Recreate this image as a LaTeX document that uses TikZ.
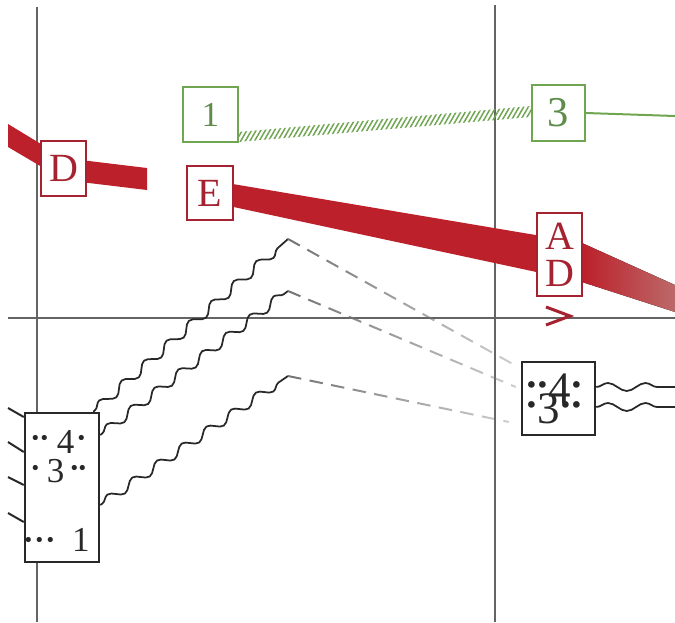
\documentclass[tikz,border=0pt]{standalone}
\usepackage{fontspec}
\setmainfont{Liberation Serif}
\usetikzlibrary{decorations.pathmorphing,patterns.meta,fadings}
\definecolor{bandred}{RGB}{188,32,42}
\definecolor{boxred}{RGB}{165,35,48}
\definecolor{fadered}{RGB}{188,105,105}
\definecolor{grn}{RGB}{112,165,82}
\definecolor{grntxt}{RGB}{95,140,75}
\definecolor{axisgray}{RGB}{100,100,100}
\definecolor{ink}{RGB}{40,40,40}
\definecolor{dashgray}{RGB}{115,115,115}
\tikzfading[name=faderight, left color=transparent!0, right color=transparent!65]
\newcommand\mydot{\makebox[.25em]{\raisebox{.01em}{\scalebox{1.25}{·}}}}
\newcommand\lowdot{\makebox[.25em]{\raisebox{-.1em}{\scalebox{1.25}{·}}}}
\begin{document}
\begin{tikzpicture}[x=0.4pt,y=-0.4pt,
  axisline/.style={draw=axisgray, line width=0.45pt},
  redbox/.style={draw=boxred, fill=white, line width=1pt, text=boxred, inner sep=0pt, font=\fontsize{16}{16}\selectfont},
  grnbox/.style={draw=grn, fill=white, line width=0.8pt, text=grntxt, inner sep=0pt},
  blkbox/.style={draw=ink, fill=white, line width=1pt, inner sep=0pt},
  wavy/.style={draw=ink, line width=0.7pt, decorate, decoration={snake, amplitude=1.8pt, segment length=12pt, pre length=1pt, post length=1pt}},
  wavyh/.style={draw=ink, line width=0.7pt, decorate, decoration={snake, amplitude=1.6pt, segment length=15pt}},
  dashline/.style={draw=dashgray, line width=0.8pt, dash pattern=on 5.4pt off 3.4pt, path fading=faderight},
  tick/.style={draw=ink, line width=0.8pt},
  smalltxt/.style={inner sep=0pt, text=ink, font=\fontsize{14}{14}\selectfont},
  bigtxt/.style={inner sep=0pt, text=ink, font=\fontsize{18}{18}\selectfont}
]
\useasboundingbox (0,0) rectangle (675,622);
% axes
\draw[axisline] (37,7) -- (37,622);
\draw[axisline] (495,5) -- (495,622);
\draw[axisline] (8,318) -- (675,318);
% red bands
\fill[bandred] (8,124) -- (64,158) -- (147,168) -- (147,190) -- (64,180) -- (8,147) -- cycle;
\fill[bandred] (215,181) -- (583,243) -- (583,282) -- (215,203) -- cycle;
\fill[left color=bandred, right color=fadered] (582,243) -- (675,285) -- (675,312) -- (582,282) -- cycle;
% red arrow mark
\draw[boxred, line width=1.2pt] (546,307) -- (570,316) -- (546,325);
% green boxes
\node[grnbox, minimum width=22pt, minimum height=22pt, font=\fontsize{14}{14}\selectfont] (g1) at (210.5,114.5) {1};
\node[grnbox, minimum width=21.2pt, minimum height=22.4pt, font=\fontsize{17}{17}\selectfont] (g3) at (558.5,113) {3};
% hatched band and line
\fill[pattern={Lines[angle=60,distance=1.6pt,line width=0.6pt]}, pattern color=grn]
  (238,132) -- (531,106) -- (531,117) -- (238,142) -- cycle;
\coordinate (gend) at (675,116);
\draw[grn, line width=0.8pt] (g3.east) -- (gend);
% red boxes
\node[redbox, minimum width=18pt, minimum height=22pt] (d) at (63.5,168.5) {D};
\node[redbox, minimum width=18.4pt, minimum height=21.6pt] (e) at (210,193) {E};
\node[redbox, minimum width=18pt, minimum height=33.2pt, align=center, font=\fontsize{16}{14.8}\selectfont] (ad) at (559.5,254.5) {A\\D};
% black boxes
\node[blkbox, minimum width=29.6pt, minimum height=59.6pt] (lb) at (62,487.5) {};
\node[blkbox, minimum width=29.2pt, minimum height=29.2pt] (rb) at (558.5,398.5) {};
% left box texts
\node[smalltxt] (r4) at (59,441.5) {\mydot\mydot\hspace{3.2pt}4\hspace{1.4pt}\mydot};
\node[smalltxt] (r3) at (59.6,471) {\mydot\hspace{2.6pt}3\hspace{2.2pt}\mydot\mydot};
\node[smalltxt] (r1) at (56.8,541.5) {\lowdot\hspace{1pt}\lowdot\hspace{1pt}\lowdot\hspace{6.8pt}1};
% right box text (two overlapping rows)
\node[bigtxt] (s43) at (554.5,399) {\raisebox{4pt}{\rlap{\mydot\mydot4\mydot}}\raisebox{-4pt}{\mydot3\mydot\mydot}};
% left ticks
\coordinate (t1) at (8,408);
\coordinate (t2) at (8,442);
\coordinate (t3) at (8,477);
\coordinate (t4) at (8,513);
\draw[tick] (t1) -- ([yshift=28.2pt]lb.west);
\draw[tick] (t2) -- ([yshift=14.2pt]lb.west);
\draw[tick] (t3) -- ([yshift=1pt]lb.west);
\draw[tick] (t4) -- ([yshift=-13.8pt]lb.west);
% peaks
\coordinate (pa) at (288,239);
\coordinate (pb) at (288,291);
\coordinate (pc) at (288,376);
\draw[wavy] ([xshift=-2.8pt]lb.north east) -- (pa);
\draw[wavy] ([yshift=21pt]lb.east) -- (pb);
\draw[wavy] ([yshift=-7pt]lb.east) -- (pc);
% dashed
\draw[dashline] (pa) -- ([xshift=-3.6pt,yshift=14pt]rb.west);
\draw[dashline] (pb) -- ([xshift=-2pt,yshift=4.6pt]rb.west);
\draw[dashline] (pc) -- ([xshift=-4.8pt,yshift=-9.4pt]rb.west);
% right wavy
\coordinate (w1) at (675,387);
\coordinate (w2) at (675,407);
\draw[wavyh] ([yshift=4.6pt]rb.east) -- (w1);
\draw[wavyh] ([yshift=-3.4pt]rb.east) -- (w2);
\end{tikzpicture}
\end{document}
